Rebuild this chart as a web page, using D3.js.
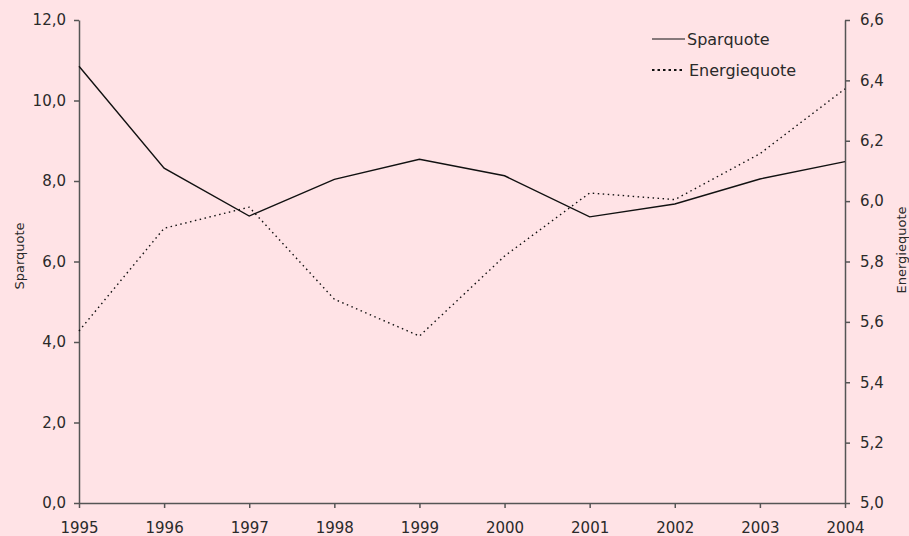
<!DOCTYPE html>
<html>
<head>
<meta charset="utf-8">
<script src="https://cdn.jsdelivr.net/npm/d3@7"></script>
<style>
  html, body { margin: 0; padding: 0; background: #ffe3e6; }
  svg { display: block; }
  text { font-family: "DejaVu Sans", sans-serif; fill: #2a2a2a; }
</style>
</head>
<body>
<div id="chart"></div>
<script>

var years = [1995, 1996, 1997, 1998, 1999, 2000, 2001, 2002, 2003, 2004];
var sparquote = [10.85, 8.32, 7.13, 8.04, 8.54, 8.13, 7.11, 7.43, 8.05, 8.48];
var energiequote = [5.57, 5.91, 5.98, 5.675, 5.553, 5.818, 6.027, 6.005, 6.157, 6.372];
var leftTicks = [0, 2, 4, 6, 8, 10, 12];
var rightTicks = [5.0, 5.2, 5.4, 5.6, 5.8, 6.0, 6.2, 6.4, 6.6];

var W = 909, H = 536;
var margin = {top: 20, right: 64, bottom: 33, left: 79},
    width = W - margin.left - margin.right,
    height = H - margin.top - margin.bottom;

var svg = d3.select("#chart")
  .append("svg")
    .attr("width", W)
    .attr("height", H)
  .append("g")
    .attr("transform", "translate(" + margin.left + "," + margin.top + ")");

var x = d3.scaleLinear().domain([1995, 2004]).range([0, width]);
var yL = d3.scaleLinear().domain([0, 12]).range([height, 0]);
var yR = d3.scaleLinear().domain([5.0, 6.6]).range([height, 0]);

var comma = function(d) { return d.toFixed(1).replace(".", ","); };

// axes
var xAxis = svg.append("g")
  .attr("transform", "translate(0," + height + ")")
  .call(d3.axisBottom(x).tickValues(years).tickFormat(d3.format("d")).tickSize(5).tickSizeOuter(0));
xAxis.selectAll("text").attr("y", 19).attr("dy", "0.71em");

var leftAxis = svg.append("g")
  .call(d3.axisLeft(yL).tickValues(leftTicks).tickFormat(comma).tickSize(5).tickSizeOuter(0).tickPadding(8));

var rightAxis = svg.append("g")
  .attr("transform", "translate(" + width + ",0)")
  .call(d3.axisRight(yR).tickValues(rightTicks).tickFormat(comma).tickSize(5).tickSizeOuter(0).tickPadding(10));

svg.selectAll(".domain, .tick line")
  .attr("stroke", "#555")
  .attr("stroke-width", 1.5);
svg.selectAll(".tick text")
  .style("font-size", "15px")
  .style("font-family", "DejaVu Sans, sans-serif")
  .attr("fill", "#2a2a2a");

// axis titles
svg.append("text")
  .attr("transform", "translate(" + (19 - margin.left) + "," + (256 - margin.top) + ") rotate(-90)")
  .attr("text-anchor", "middle")
  .attr("dy", "0.35em")
  .style("font-size", "13px")
  .text("Sparquote");

svg.append("text")
  .attr("transform", "translate(" + (901 - margin.left) + "," + (250 - margin.top) + ") rotate(-90)")
  .attr("text-anchor", "middle")
  .attr("dy", "0.35em")
  .style("font-size", "13px")
  .text("Energiequote");

// lines
var spData = years.map(function(d, i) { return {year: d, v: sparquote[i]}; });
var enData = years.map(function(d, i) { return {year: d, v: energiequote[i]}; });

svg.append("path")
  .datum(spData)
  .attr("fill", "none")
  .attr("stroke", "#111")
  .attr("stroke-width", 1.4)
  .attr("d", d3.line()
    .x(function(d) { return x(d.year); })
    .y(function(d) { return yL(d.v); }));

svg.append("path")
  .datum(enData)
  .attr("fill", "none")
  .attr("stroke", "#111")
  .attr("stroke-width", 1.4)
  .attr("stroke-dasharray", "1.5,3.5")
  .attr("d", d3.line()
    .x(function(d) { return x(d.year); })
    .y(function(d) { return yR(d.v); }));

// legend
var legend = svg.append("g")
  .attr("transform", "translate(" + (652 - margin.left) + "," + (39 - margin.top) + ")");
var legItems = [
  {name: "Sparquote", dash: null},
  {name: "Energiequote", dash: "2.5,3"}
];
legItems.forEach(function(d, i) {
  var g = legend.append("g").attr("transform", "translate(0," + (i * 31) + ")");
  g.append("line")
    .attr("x1", 0).attr("x2", i === 0 ? 33 : 30)
    .attr("stroke", "#111")
    .attr("stroke-width", i === 0 ? 1.2 : 2)
    .attr("stroke-dasharray", d.dash);
  g.append("text")
    .attr("x", i === 0 ? 35 : 37)
    .attr("dy", "0.35em")
    .style("font-size", "16px")
    .text(d.name);
});

</script>
</body>
</html>
